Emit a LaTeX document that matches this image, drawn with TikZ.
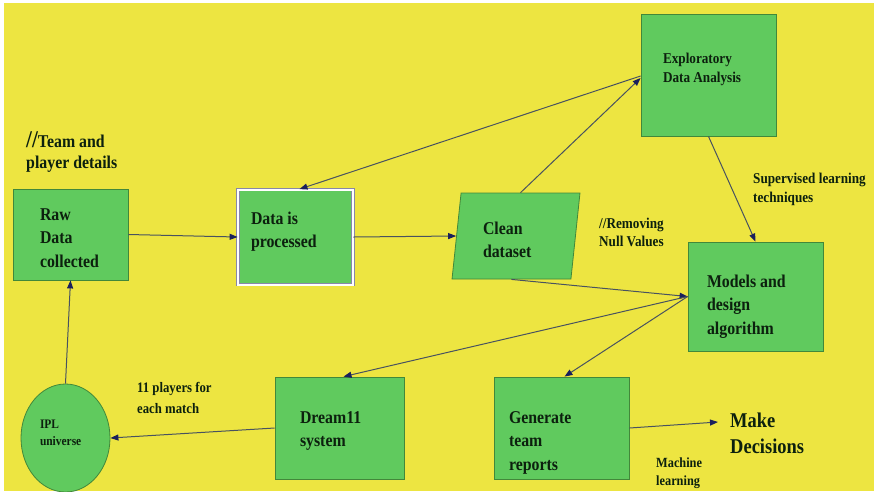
\documentclass[tikz,border=0pt]{standalone}
\usepackage{fontspec}
\setmainfont{Liberation Serif}[FakeStretch=0.88]
\usetikzlibrary{shapes.geometric,arrows.meta}
\definecolor{bgyellow}{RGB}{237,229,65}
\definecolor{boxfill}{RGB}{96,202,94}
\definecolor{boxline}{RGB}{66,136,58}
\definecolor{ink}{RGB}{12,32,14}
\definecolor{flowline}{RGB}{72,82,96}
\definecolor{tipblue}{RGB}{26,32,92}
\definecolor{frameline}{RGB}{136,136,168}
\tikzset{ box/.style = { rectangle % process step
, draw = boxline
, fill = boxfill
, line width = 0.8pt
, inner sep = 0pt
, align = left
, text = ink
, text height = 12pt
, font = \fontsize{18}{23.5}\selectfont\bfseries
, execute at begin node = {\spaceskip=.22em\relax}
}
, note/.style = { inner sep = 0pt % free comment, placed by its last line
, anchor = base west
, align = left
, text = ink
, execute at begin node = {\spaceskip=.22em\relax}
}
, flow/.style = { draw = flowline % connector
, line width = 1pt
, -{Triangle[length=8pt,width=6pt,color=tipblue]}
}
}

\begin{document}
\begin{tikzpicture}[x=1pt, y=-1pt]
\useasboundingbox (0,0) rectangle (874,491);
\fill[white] (0,0) rectangle (874,491);
\fill[bgyellow] (4,3) rectangle (874,491);

% process steps
\node[box, minimum width=115, minimum height=91, text width=61, text depth=41pt] (raw) at (70.5,234.5) {Raw\\Data\\collected};
\node[box, minimum width=115, minimum height=95, text width=89, text depth=38pt, draw=frameline, double=white, double distance=2pt] (proc) at (295.5,237) {Data is\\processed};
\node[box, trapezium, trapezium stretches=true, trapezium left angle=79, trapezium right angle=101, minimum width=128, minimum height=86, text width=66, text depth=16pt] (clean) at (516,236) {Clean\\dataset};
\node[box, minimum width=135, minimum height=122, text width=91, text depth=36pt, font=\fontsize{15}{19}\selectfont\bfseries] (eda) at (708.5,75) {Exploratory\\Data Analysis};
\node[box, minimum width=135, minimum height=109, text width=97, text depth=31pt] (models) at (755.5,296.5) {Models and\\design\\algorithm};
\node[box, minimum width=135, minimum height=102, text width=105, text depth=22pt] (gen) at (561.5,428) {Generate\\team\\reports};
\node[box, minimum width=129, minimum height=102, text width=79, text depth=22pt] (dream) at (339.5,428) {Dream11\\system};
\node[box, ellipse, minimum width=89, minimum height=108, text width=51, text depth=32pt, font=\fontsize{13}{17}\selectfont\bfseries] (ipl) at (65.5,438) {IPL\\universe};

% comments
\node[note, font=\fontsize{18}{21}\selectfont\bfseries] (team) at (26,168) {{\fontsize{24}{21}\selectfont//}Team and\\player details};
\node[note, font=\fontsize{15}{18}\selectfont\bfseries] (nulls) at (599,246) {//Removing\\Null Values};
\node[note, font=\fontsize{15}{19}\selectfont\bfseries] (superv) at (753,202) {Supervised learning\\techniques};
\node[note, font=\fontsize{14.5}{20.5}\selectfont\bfseries] (eleven) at (137,413) {11 players for\\each match};
\node[note, font=\fontsize{21}{26}\selectfont\bfseries] (decide) at (730,453) {Make\\Decisions};
\node[note, font=\fontsize{14}{17.5}\selectfont\bfseries] (ml) at (656,485) {Machine\\learning};

% connectors
\draw[flow] (raw.east) -- (proc.west);
\draw[flow] (proc.east) -- (clean.left side);
\draw[flow] ([yshift=-1pt]eda.west) -- ([xshift=4pt]proc.north);
\draw[flow] (clean.top side) -- ([yshift=-3pt]eda.west);
\draw[flow] (eda.south) -- (models.north);
\draw[flow] (clean.bottom side) -- (models.west);
\draw[flow] (models.west) -- ([xshift=4pt]dream.north);
\draw[flow] (models.west) -- ([xshift=3pt]gen.north);
\draw[flow] (dream.west) -- (ipl.east);
\draw[flow] (ipl.north) -- (raw.south);
\draw[flow] (gen.east) -- ([xshift=-12pt,yshift=31pt]decide.base west);
\end{tikzpicture}
\end{document}
